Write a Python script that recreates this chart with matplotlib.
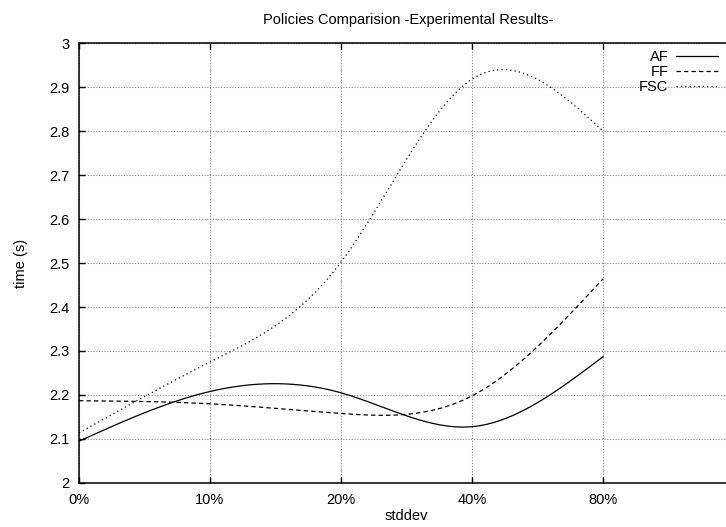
import numpy as np
import matplotlib
matplotlib.use("Agg")
import matplotlib.pyplot as plt

# donnees (points aux positions 0..4)
stddev_labels = ["0%", "10%", "20%", "40%", "80%"]
positions = [0, 1, 2, 3, 4]
af = [2.095, 2.208, 2.205, 2.128, 2.287]
ff = [2.187, 2.180, 2.158, 2.198, 2.464]
fsc = [2.114, 2.275, 2.502, 2.918, 2.800]


def spline_naturelle(x, y, n=300):
    # spline cubique naturelle, comme "smooth csplines" de gnuplot
    x = np.asarray(x, float)
    y = np.asarray(y, float)
    k = len(x)
    h = np.diff(x)
    A = np.zeros((k, k))
    b = np.zeros(k)
    A[0, 0] = 1
    A[-1, -1] = 1
    for i in range(1, k - 1):
        A[i, i - 1] = h[i - 1]
        A[i, i] = 2 * (h[i - 1] + h[i])
        A[i, i + 1] = h[i]
        b[i] = 6 * ((y[i + 1] - y[i]) / h[i] - (y[i] - y[i - 1]) / h[i - 1])
    M = np.linalg.solve(A, b)
    xs = np.linspace(x[0], x[-1], n)
    ys = np.empty_like(xs)
    for j, t in enumerate(xs):
        i = min(np.searchsorted(x, t, side="right") - 1, k - 2)
        dx = x[i + 1] - x[i]
        a = (x[i + 1] - t) / dx
        c = (t - x[i]) / dx
        ys[j] = (a * y[i] + c * y[i + 1]
                 + ((a ** 3 - a) * M[i] + (c ** 3 - c) * M[i + 1]) * dx ** 2 / 6)
    return xs, ys


plt.rcParams["font.family"] = ["Liberation Sans", "DejaVu Sans"]
plt.rcParams["font.size"] = 10.5

fig = plt.figure(figsize=(7.26, 5.27), dpi=100)
ax = fig.add_axes([79 / 726, 44 / 527, 655 / 726, 440 / 527])

styles = [("AF", af, "-"), ("FF", ff, (0, (3.5, 2.5))), ("FSC", fsc, (0, (1, 2.5)))]
for nom, val, ls in styles:
    xs, ys = spline_naturelle(positions, val)
    ax.plot(xs, ys, color="black", lw=0.9, ls=ls, label=nom)

ax.set_xlim(0, 5)
ax.set_ylim(2, 3)
ax.set_xticks(positions)
ax.set_xticklabels(stddev_labels)
ax.set_yticks(np.arange(2, 3.01, 0.1))
ax.set_yticklabels(["2", "2.1", "2.2", "2.3", "2.4", "2.5", "2.6", "2.7", "2.8", "2.9", "3"])
ax.tick_params(direction="in", length=4.5, width=1, top=True, right=True, pad=7)
ax.grid(True, color="#888888", ls=(0, (1, 1.5)), lw=0.8)
for s in ax.spines.values():
    s.set_linewidth(1.1)

ax.set_xlabel("stddev", labelpad=2)
ax.set_ylabel("time (s)", labelpad=15)
fig.text(408 / 726, 1 - 20 / 527, "Policies Comparision -Experimental Results-",
         ha="center", va="center")

fig.legend(loc="upper right", bbox_to_anchor=(718 / 726, 1 - 50 / 527),
           frameon=False, markerfirst=False, handlelength=2.9,
           labelspacing=0.08, borderpad=0, borderaxespad=0, handletextpad=0.5)

fig.savefig("out.png", dpi=100)
